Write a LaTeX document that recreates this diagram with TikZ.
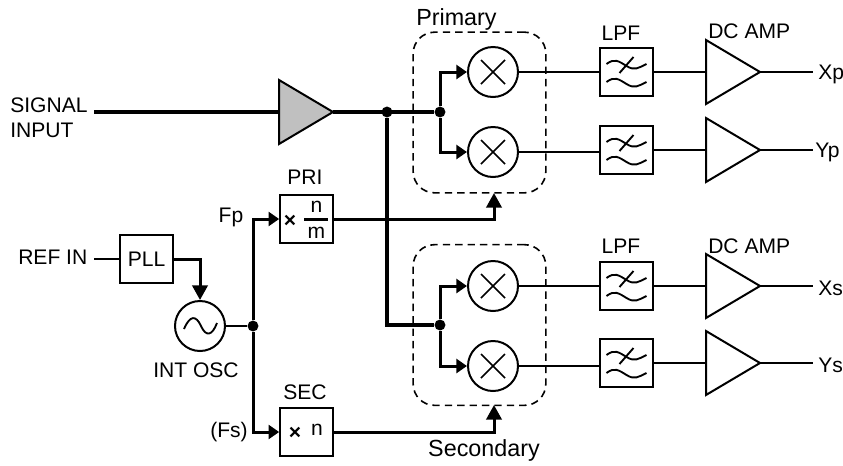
\documentclass[tikz,border=0pt]{standalone}
\usepackage{fontspec}
\setmainfont{Liberation Sans}
\usetikzlibrary{arrows.meta, positioning, shapes.geometric}
\definecolor{ampgray}{RGB}{192,192,192}
\begin{document}
\begin{tikzpicture}[x=0.75pt, y=-0.75pt,
  lab/.style={font=\fontsize{15.8}{19}\selectfont, inner sep=0pt},
  biglab/.style={font=\fontsize{17.5}{20}\selectfont, inner sep=0pt},
  box/.style={rectangle, draw, line width=1.5pt, minimum width=39.5pt, minimum height=36.5pt, inner sep=0pt},
  mix/.style={circle, draw, line width=1.5pt, minimum size=37.5pt, inner sep=0pt},
  amp/.style={isosceles triangle, isosceles triangle stretches, shape border rotate=0, draw, line width=1.5pt,
    minimum width=48pt, minimum height=40.5pt, inner sep=0pt, outer sep=0pt},
  dash box/.style={rectangle, draw, dashed, dash pattern=on 5.5pt off 3.8pt, line width=1.2pt, rounded corners=16pt,
    minimum width=99.5pt, minimum height=120.5pt},
  dot/.style={circle, fill, minimum size=8.2pt, inner sep=0pt},
  thin w/.style={line width=1.4pt},
  mid w/.style={line width=2.25pt},
  fat w/.style={line width=3.4pt},
  arr/.style={mid w, -{Triangle[length=8pt, width=10.5pt]}},
  arrv/.style={mid w, -{Triangle[length=11pt, width=11.5pt]}}]
  \useasboundingbox (0,0) rectangle (843,465);

  % dashed groups
  \node[dash box] (prim) at (479.5,112.5) {};
  \node[dash box] (secd) at (479.5,325) {};
  \node[biglab, anchor=west] at (416,19) {Primary};
  \node[biglab] at (484,450) {Secondary};

  % four output channels
  \foreach \ch/\ymix/\ylpf/\yamp/\xt/\tx in {xp/72/72/72/818/Xp, yp/152/150/150/815/Yp, xs/286/286/286/818/Xs, ys/366/363/363/818/Ys} {
    \node[mix] (mx\ch) at (493,\ymix) {};
    \draw[line width=1.3pt] (mx\ch.center) ++(-12,-12) -- ++(24,24);
    \draw[line width=1.3pt] (mx\ch.center) ++(-12,12) -- ++(24,-24);
    \node[box] (lpf\ch) at (626.5,\ylpf) {};
    \draw[thin w] (lpf\ch.center) ++(-20,-8) .. controls +(8,-6) and +(-8,-5) .. ++(20,2) .. controls +(8,5) and +(-8,4) .. ++(20,-2);
    \draw[thin w] (lpf\ch.center) ++(-7,1) -- ++(14,-16);
    \draw[thin w] (lpf\ch.center) ++(-20,10) .. controls +(8,-6) and +(-8,-5) .. ++(20,2) .. controls +(8,5) and +(-8,4) .. ++(20,-2);
    \node[amp, anchor=apex] (am\ch) at (760,\yamp) {};
    \coordinate (out\ch) at (813,\yamp);
    \node[lab, anchor=west] at (\xt,\yamp+2) {\tx};
    \draw[thin w] (mx\ch.east) -- (mx\ch.east -| lpf\ch.west);
    \draw[thin w] (lpf\ch.east) -- (lpf\ch.east -| am\ch.lower side);
    \draw[thin w] (am\ch.apex) -- (out\ch);
  }
  \node[lab] at (621,33) {LPF};
  \node[lab] at (621,246) {LPF};
  \node[lab, anchor=west] at (708,31) {DC AMP};
  \node[lab, anchor=west] at (708,246) {DC AMP};

  % signal path
  \node[lab, anchor=west, align=left] (sig) at (10,117.5) {SIGNAL\\INPUT};
  \coordinate (sigin) at (94,112);
  \node[amp, fill=ampgray, anchor=apex] (inamp) at (333,112) {};
  \node[dot] (spl) at (387,112) {};
  \node[dot] (jp) at (440,112) {};
  \node[dot] (js) at (440,325) {};
  \coordinate (corner) at (387,325);
  \draw[fat w] (sigin) -- (inamp.lower side);
  \draw[fat w] (inamp.apex) -- (jp);
  \draw[fat w] (spl) -- (corner) -- (js);
  \draw[arr] (jp) |- (mxxp);
  \draw[arr] (jp) |- (mxyp);
  \draw[arr] (js) |- (mxxs);
  \draw[arr] (js) |- (mxys);

  % reference side
  \node[lab, anchor=west] (ref) at (18,257) {REF IN};
  \coordinate (refout) at (94,259);
  \node[box, minimum height=36pt] (pll) at (146.5,259) {\fontsize{15.8}{19}\selectfont PLL};
  \node[mix] (osc) at (200,326) {};
  \draw[thin w] (184,329) .. controls (190,315) and (196,315) .. (201,326) .. controls (206,337) and (212,336) .. (217,323);
  \node[lab] at (196,370) {INT OSC};
  \node[dot] (jo) at (253,326) {};
  \node[box] (pri) at (306.5,219) {};
  \node[box] (sec) at (306.5,432) {};
  \node[lab] at (305,177) {PRI};
  \node[lab] at (305,392) {SEC};
  \node[lab] at (231,217) {Fp};
  \node[lab] at (229,432) {(Fs)};
  \node[lab, font=\fontsize{15.8}{19}\selectfont\bfseries] at (290,221) {×};
  \node[lab] (nn) at (316.5,207) {n};
  \node[lab] (mm) at (316.5,233) {m};
  \draw[mid w] (304,219) -- (328,219);
  \node[lab, font=\fontsize{15.8}{19}\selectfont\bfseries] at (295,433) {×};
  \node[lab] (ns) at (317,430) {n};
  \coordinate (priin) at (494,193);
  \coordinate (secin) at (494,405);
  \draw[thin w] (refout) -- (pll.west);
  \draw[arrv] (pll.east) -| (osc.north);
  \draw[thin w] (osc.east) -- (jo);
  \draw[arr] (jo) |- (pri.west);
  \draw[arr] (jo) |- (sec.west);
  \draw[arrv] (pri.east) -| (priin);
  \draw[arrv] (sec.east) -| (secin);
\end{tikzpicture}
\end{document}
